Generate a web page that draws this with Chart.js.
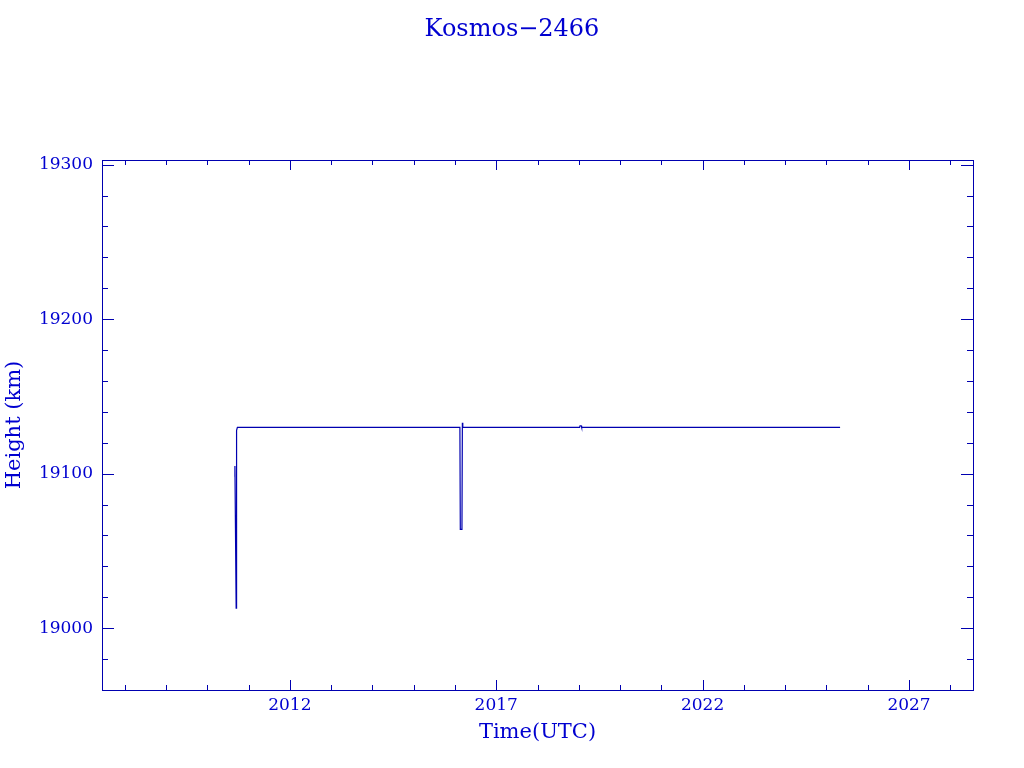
<!DOCTYPE html>
<html>
<head>
<meta charset="utf-8">
<title>Kosmos-2466</title>
<script src="https://cdn.jsdelivr.net/npm/chart.js@4/dist/chart.umd.min.js"></script>
<style>
  html, body { margin: 0; padding: 0; background: #ffffff; }
  #wrap { width: 1024px; height: 768px; }
</style>
</head>
<body>
<div id="wrap"><canvas id="heightChart" width="1024" height="768"></canvas></div>
<script>
// orbit height samples (decimal year, km)
const times = [2010.66, 2010.67, 2010.70, 2010.71, 2010.73, 2016.12, 2016.13, 2016.17, 2016.18, 2016.19, 2019.02, 2019.03, 2019.06, 2019.07, 2025.33];
const heights = [19098, 19105, 19013, 19128, 19130, 19130, 19064, 19064, 19133, 19130, 19130, 19131, 19131, 19130, 19130];

const xTicks = [2012, 2017, 2022, 2027];
const yTicks = [19000, 19100, 19200, 19300];
const xMinorStep = 1;
const yMinorStep = 20;

const axisColor = '#0000b0';
const textColor = '#0000d0';
const fontFamily = '"DejaVu Serif", "Liberation Serif", serif';

// PGPLOT style frame: box plus inward ticks on all four sides
const frameTicks = {
    id: 'frameTicks',
    afterDatasetsDraw(chart) {
        const ctx = chart.ctx;
        const area = chart.chartArea;
        const xs = chart.scales.x;
        const ys = chart.scales.y;
        ctx.save();
        ctx.strokeStyle = axisColor;
        ctx.lineWidth = 1;
        ctx.strokeRect(Math.round(area.left) + 0.5, Math.round(area.top) + 0.5,
            Math.round(area.right - area.left), Math.round(area.bottom - area.top));

        ctx.beginPath();
        for (let v = Math.ceil(xs.min); v <= xs.max; v += xMinorStep) {
            const px = Math.round(xs.getPixelForValue(v)) + 0.5;
            const len = xTicks.includes(v) ? 10 : 5;
            ctx.moveTo(px, area.bottom); ctx.lineTo(px, area.bottom - len);
            ctx.moveTo(px, area.top); ctx.lineTo(px, area.top + len);
        }
        for (let v = Math.ceil(ys.min / yMinorStep) * yMinorStep; v <= ys.max; v += yMinorStep) {
            const py = Math.round(ys.getPixelForValue(v)) + 0.5;
            const len = yTicks.includes(v) ? 12 : 6;
            ctx.moveTo(area.left, py); ctx.lineTo(area.left + len, py);
            ctx.moveTo(area.right, py); ctx.lineTo(area.right - len, py);
        }
        ctx.stroke();
        ctx.restore();
    }
};

const ctx = document.getElementById('heightChart').getContext('2d');
const chart = new Chart(ctx, {
    type: 'scatter',
    data: {
        datasets: [{
            label: 'Height',
            data: times.map((t, i) => ({x: t, y: heights[i]})),
            showLine: true,
            borderColor: axisColor,
            borderWidth: 1.2,
            pointRadius: 0,
            tension: 0
        }]
    },
    options: {
        responsive: false,
        animation: false,
        layout: { padding: 0 },
        plugins: {
            legend: { display: false },
            tooltip: { enabled: false },
            title: {
                display: true,
                text: 'Kosmos\u22122466',
                color: textColor,
                font: { family: fontFamily, size: 24, weight: 'normal' },
                padding: { top: 15.6, bottom: 115.6 }
            }
        },
        scales: {
            x: {
                type: 'linear',
                min: 2007.45,
                max: 2028.55,
                afterBuildTicks: (axis) => { axis.ticks = xTicks.map(v => ({value: v})); },
                afterFit: (axis) => { axis.height = 78; },
                grid: { display: false, drawTicks: false },
                border: { display: false },
                ticks: {
                    color: textColor,
                    padding: 5,
                    maxRotation: 0,
                    font: { family: fontFamily, size: 17 },
                    callback: (v) => String(v)
                },
                title: {
                    display: true,
                    text: 'Time(UTC)',
                    color: textColor,
                    font: { family: fontFamily, size: 21 },
                    padding: { top: 0, bottom: 23 }
                }
            },
            y: {
                min: 18960,
                max: 19303,
                afterBuildTicks: (axis) => { axis.ticks = yTicks.map(v => ({value: v})); },
                afterFit: (axis) => { axis.width = 102; },
                grid: { display: false, drawTicks: false },
                border: { display: false },
                ticks: {
                    color: textColor,
                    padding: 9,
                    font: { family: fontFamily, size: 17 },
                    callback: (v) => String(v)
                },
                title: {
                    display: true,
                    text: 'Height (km)',
                    color: textColor,
                    font: { family: fontFamily, size: 21 },
                    padding: { top: 1.5, bottom: 0 }
                }
            },
            // empty right axis keeps the 51px right margin so the title stays page-centred
            yRight: {
                position: 'right',
                min: 18960,
                max: 19303,
                afterFit: (axis) => { axis.width = 51; },
                grid: { display: false, drawTicks: false },
                border: { display: false },
                ticks: { display: false }
            }
        }
    },
    plugins: [frameTicks]
});
</script>
</body>
</html>
